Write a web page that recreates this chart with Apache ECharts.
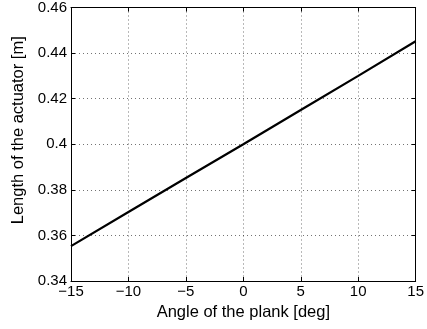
<!DOCTYPE html>
<html>
<head>
<meta charset="utf-8">
<script src="https://cdn.jsdelivr.net/npm/echarts@6/dist/echarts.min.js"></script>
<style>
	html, body { margin: 0; padding: 0; background: #fff; }
	#chart { width: 427px; height: 329px; }
</style>
</head>
<body>
<div id="chart"></div>
<script>
var angleDeg = [-15, -10, -5, 0, 5, 10, 15];
var actuatorLen = [0.3553, 0.3703, 0.3852, 0.4000, 0.4150, 0.4300, 0.4452];
var X_TITLE = 'Angle of the plank [deg]';
var Y_TITLE = 'Length of the actuator [m]';

var FONT = 'Liberation Sans, Arial, sans-serif';

function fmtNum(v) {
	var s = String(+v.toFixed(2));
	return s.replace('-', '\u2212');
}

// plain framing axis (top/right box with inward ticks)
function frameAxis(pos, isX) {
	return {
		type: 'value',
		position: pos,
		min: isX ? -15 : 0.34,
		max: isX ? 15 : 0.46,
		interval: isX ? 5 : 0.02,
		axisLine: { show: true, onZero: false, lineStyle: { color: '#000', width: 1 } },
		axisTick: { show: true, inside: true, length: 4, lineStyle: { color: '#000' } },
		axisLabel: { show: false },
		splitLine: { show: false }
	};
}

var chart = echarts.init(document.getElementById('chart'));
var data = [];
for (var i = 0; i < angleDeg.length; i++) data.push([angleDeg[i], actuatorLen[i]]);

var gridDots = { show: true, lineStyle: { color: '#000', type: [1, 3], width: 1, opacity: 0.55 } };

var xMain = frameAxis('bottom', true);
xMain.name = X_TITLE;
xMain.nameLocation = 'middle';
xMain.nameGap = 23;
xMain.nameTextStyle = { color: '#000', fontSize: 16.5, fontFamily: FONT };
xMain.axisLabel = { show: true, color: '#000', fontSize: 15, fontFamily: FONT, margin: 3, formatter: fmtNum };
xMain.splitLine = gridDots;

var yMain = frameAxis('left', false);
yMain.name = Y_TITLE;
yMain.nameLocation = 'middle';
yMain.nameGap = 42;
yMain.nameTextStyle = { color: '#000', fontSize: 16.5, fontFamily: FONT, padding: [0, 0, 0, 28] };
yMain.axisLabel = { show: true, color: '#000', fontSize: 15, fontFamily: FONT, margin: 4, formatter: fmtNum };
yMain.splitLine = gridDots;

chart.setOption({
	animation: false,
	backgroundColor: '#fff',
	grid: { left: 71, right: 7, top: 6, bottom: 48 },
	xAxis: [xMain, frameAxis('top', true)],
	yAxis: [yMain, frameAxis('right', false)],
	series: [{
		type: 'line',
		data: data,
		showSymbol: false,
		lineStyle: { color: '#000', width: 2.2 }
	}]
});
</script>
</body>
</html>
